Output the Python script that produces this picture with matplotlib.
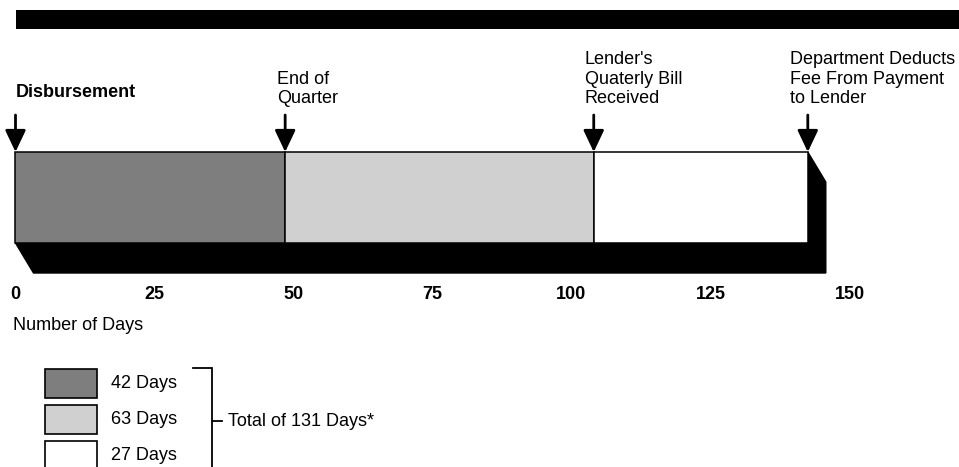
"""Timeline of days from loan disbursement to fee deduction, drawn as a shaded bar."""

import matplotlib
matplotlib.use("Agg")
import matplotlib.pyplot as plt
from matplotlib.patches import Polygon, Rectangle

# ---- data -----------------------------------------------------------------
milestone_days = [0, 48.5, 104, 142.5]
milestone_labels = [
    "Disbursement",
    "End of\nQuarter",
    "Lender's\nQuaterly Bill\nReceived",
    "Department Deducts\nFee From Payment\nto Lender",
]
tick_days = [0, 25, 50, 75, 100, 125, 150]
tick_labels = ["0", "25", "50", "75", "100", "125", "150"]
legend_labels = ["42 Days", "63 Days", "27 Days"]
total_label = "Total of 131 Days*"
axis_title = "Number of Days"

# ---- style ------------------------------------------------------------------
SEG_COLOURS = ["#7e7e7e", "#d0d0d0", "#ffffff"]
FONT = "Liberation Sans"
FS = 13
W, H = 959, 467
PX_PER_DAY = 5.56
DAY0_PX = 15.5

plt.rcParams["font.family"] = [FONT, "DejaVu Sans"]

fig = plt.figure(figsize=(W / 100, H / 100), dpi=100)

# overlay in pixel coordinates for the page furniture
pax = fig.add_axes([0, 0, 1, 1])
pax.set_xlim(0, W)
pax.set_ylim(H, 0)
pax.axis("off")

# main axes: x in days, y in pixels, bottom edge at y = 280 px
bar_bottom_px = 280
ax = fig.add_axes([0, (H - bar_bottom_px) / H, 1, bar_bottom_px / H])
ax.set_xlim(-DAY0_PX / PX_PER_DAY, (W - DAY0_PX) / PX_PER_DAY)
ax.set_ylim(bar_bottom_px, 0)
ax.patch.set_alpha(0)
for s in ax.spines.values():
    s.set_visible(False)
ax.set_yticks([])
ax.set_xticks(tick_days)
ax.set_xticklabels(tick_labels, fontsize=FS, fontweight="bold")
ax.tick_params(axis="x", length=0, pad=4.5)

# top rule
pax.add_patch(Rectangle((16, 10), W - 16, 19, color="black", lw=0))

# shaded bar with its black extrusion
bar_top, bar_h = 152, 91
depth_dx, depth_dy = 18 / PX_PER_DAY, 30
x0, x1 = milestone_days[0], milestone_days[-1]
y_bot = bar_top + bar_h
shadow = Polygon(
    [
        (x0, y_bot), (x0 + depth_dx, y_bot + depth_dy),
        (x1 + depth_dx, y_bot + depth_dy), (x1 + depth_dx, bar_top + depth_dy),
        (x1, bar_top), (x1, y_bot),
    ],
    closed=True, facecolor="black", edgecolor="black", lw=1,
)
ax.add_patch(shadow)

lefts = milestone_days[:-1]
widths = [b - a for a, b in zip(milestone_days[:-1], milestone_days[1:])]
ax.barh(
    bar_top + bar_h / 2, widths, left=lefts, height=bar_h,
    color=SEG_COLOURS, edgecolor="black", linewidth=1.1, zorder=3,
)

# milestone arrows and labels
label_dx_px = [0, -8, -9, -18]
label_bottom_px = [101, 107, 107, 107]
for day, text, dx, yb in zip(milestone_days, milestone_labels, label_dx_px, label_bottom_px):
    ax.annotate(
        "", xy=(day, bar_top), xytext=(day, 115),
        arrowprops=dict(arrowstyle="-|>,head_length=0.95,head_width=0.45",
                        color="black", lw=2, mutation_scale=14,
                        shrinkA=0, shrinkB=0),
        annotation_clip=False,
    )
    ax.annotate(
        text, xy=(day, yb), xytext=(dx, 0), textcoords="offset pixels",
        ha="left", va="bottom", fontsize=FS, linespacing=1.18,
        fontweight="bold" if "\n" not in text else "normal",
        annotation_clip=False,
    )

pax.text(13, 325, axis_title, fontsize=FS, ha="left", va="center")

# legend
box_x, box_w, box_h = 45, 52, 29
box_tops = [369, 405, 441]
for top, colour, lab in zip(box_tops, SEG_COLOURS, legend_labels):
    pax.add_patch(Rectangle((box_x, top), box_w, box_h, facecolor=colour,
                            edgecolor="black", lw=1.2))
    pax.text(111, top + box_h / 2, lab, fontsize=FS, ha="left", va="center")

pax.plot([193, 212, 212], [368, 368, 472], color="black", lw=1.3,
         solid_joinstyle="miter", clip_on=False)
pax.plot([212, 222], [421, 421], color="black", lw=1.3)
pax.text(228, 421, total_label, fontsize=FS, ha="left", va="center")

fig.savefig("out.png", dpi=100)
